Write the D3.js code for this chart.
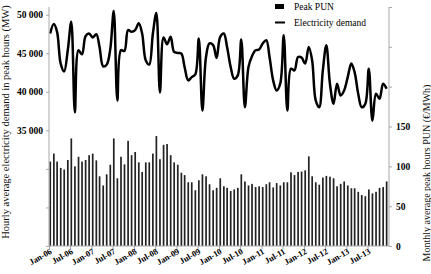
<!DOCTYPE html>
<html>
<head>
<meta charset="utf-8">
<script src="https://cdn.jsdelivr.net/npm/d3@7"></script>
<style>
  body { margin: 0; background: #fff; }
  svg text { font-family: "Liberation Serif", "Times New Roman", serif; }
</style>
</head>
<body>
<svg id="chart" width="431" height="274"></svg>
<script>
// monthly data, Jan-06 .. Dec-13
const startMonth = "2006-01";
const punValues = [
  106, 116, 106, 98, 96, 108, 135, 100, 112, 106, 108, 114,
  116, 107.5, 87.5, 76, 90, 102, 135, 85, 112, 102.5, 132, 114,
  118, 105, 93, 105, 105, 116, 138, 109, 127, 128, 114, 105,
  102, 92, 89, 80, 80, 70, 82.5, 90, 87.5, 77.5, 70, 73,
  85, 75, 73, 69, 71, 73, 90, 81, 76, 78, 74, 75,
  74, 77.5, 80, 73.5, 79, 76, 80, 80, 92.5, 89, 93, 93.5,
  95, 112.5, 87.5, 80, 77, 86, 88, 87, 85, 75, 78, 81,
  76, 72.5, 72.5, 68, 64, 62.5, 71, 66, 68, 73, 74, 81
];
const demandValues = [
  47570, 48790, 47780, 43660, 42650, 45390, 49090, 37340, 45390, 44870, 47220, 47570,
  47050, 47480, 45820, 43300, 43500, 45500, 50480, 38870, 45390, 45300, 48000, 47780,
  48000, 48880, 47570, 44090, 43530, 47500, 50220, 39910, 47050, 46170, 47130, 45170,
  45040, 44960, 43210, 41480, 41910, 42260, 46920, 37560, 44520, 46270, 46050, 44400,
  47130, 47570, 45820, 43210, 41700, 42130, 46790, 37990, 43210, 44610, 45390, 45480,
  46270, 46700, 44520, 41480, 40170, 41050, 47350, 37560, 43000, 42780, 44520, 44440,
  43660, 45820, 44090, 38870, 37990, 42780, 46050, 41050, 38440, 41050, 39520, 40170,
  41910, 43660, 42560, 39740, 37990, 38440, 43000, 36260, 39740, 39090, 41050, 40390
];
const demandTicks = [20000, 25000, 30000, 35000, 40000, 45000, 50000];
const demandLabelled = [35000, 40000, 45000, 50000];
const punTicks = [0, 50, 100, 150, 200, 250, 300];
const punLabelled = [0, 50, 100, 150];
const seriesNames = ["Peak PUN", "Electricity demand"];

const parseMonth = d3.timeParse("%Y-%m");
const start = parseMonth(startMonth);
const months = punValues.map((v, i) => d3.timeMonth.offset(start, i));
const xTicks = d3.timeMonth.every(6).range(start, d3.timeMonth.offset(start, 96));

const svg = d3.select("#chart");
const plotLeft = 49, plotRight = 389, plotTop = 7, plotBottom = 246;
const axisColor = "#a8a8a8";

const x = d3.scaleTime()
  .domain([start, d3.timeMonth.offset(start, 96)])
  .range([plotLeft, plotRight]);
const yDemand = d3.scaleLinear().domain([20000, 51000]).range([plotBottom, plotTop]);
const yPun = d3.scaleLinear().domain([0, 300]).range([plotBottom, plotTop]);

const fmt = d => d3.format(",")(d).replace(",", " ");

// bars
svg.append("g")
  .selectAll("rect")
  .data(punValues)
  .join("rect")
  .attr("x", (d, i) => x(months[i]) + 0.4)
  .attr("y", d => yPun(d))
  .attr("width", 1.7)
  .attr("height", d => plotBottom - yPun(d))
  .attr("fill", "#222");

// line
const line = d3.line()
  .x((d, i) => x(months[i]) + 1.2)
  .y(d => yDemand(d))
  .curve(d3.curveCatmullRom.alpha(0.5));

svg.append("path")
  .datum(demandValues)
  .attr("d", line)
  .attr("fill", "none")
  .attr("stroke", "#000")
  .attr("stroke-width", 2.5)
  .attr("stroke-linejoin", "round");

// left axis
const leftAxis = svg.append("g")
  .attr("transform", `translate(${plotLeft},0)`)
  .call(d3.axisLeft(yDemand).tickValues(demandTicks).tickSize(3)
    .tickFormat(d => demandLabelled.includes(d) ? fmt(d) : ""));
leftAxis.select(".domain").attr("stroke", axisColor).attr("d", `M0,${plotTop}V${plotBottom}`);
leftAxis.selectAll(".tick line").attr("stroke", axisColor);
leftAxis.selectAll(".tick text")
  .attr("x", -6)
  .attr("font-size", 9.5)
  .attr("font-weight", "bold")
  .attr("fill", "#000");

// right axis
const rightAxis = svg.append("g")
  .attr("transform", `translate(${plotRight},0)`)
  .call(d3.axisRight(yPun).tickValues(punTicks).tickSize(3)
    .tickFormat(d => punLabelled.includes(d) ? d : ""));
rightAxis.select(".domain").attr("stroke", axisColor).attr("d", `M0,${plotTop}V${plotBottom}`);
rightAxis.selectAll(".tick line").attr("stroke", axisColor);
rightAxis.selectAll(".tick text")
  .attr("x", 7)
  .attr("font-size", 9.5)
  .attr("font-weight", "bold")
  .attr("fill", "#000");

// bottom axis
const bottomAxis = svg.append("g")
  .attr("transform", `translate(0,${plotBottom})`)
  .call(d3.axisBottom(x).tickValues(xTicks).tickSize(3)
    .tickFormat(d3.timeFormat("%b-%y")));
bottomAxis.select(".domain").attr("stroke", axisColor).attr("d", `M${plotLeft},0H${plotRight}`);
bottomAxis.selectAll(".tick line").attr("stroke", axisColor);
bottomAxis.selectAll(".tick text")
  .attr("font-size", 8.5)
  .attr("font-weight", "bold")
  .attr("fill", "#000")
  .attr("text-anchor", "end")
  .attr("y", 0)
  .attr("dy", 0)
  .attr("transform", "translate(3,7) rotate(-30)");

// axis titles
svg.append("text")
  .attr("transform", `translate(9,122) rotate(-90)`)
  .attr("text-anchor", "middle")
  .attr("font-size", 10.5)
  .attr("fill", "#111")
  .text("Hourly average electricity demand in peak hours (MW)");

svg.append("text")
  .attr("transform", "translate(430,173) rotate(-90)")
  .attr("text-anchor", "middle")
  .attr("font-size", 10)
  .attr("fill", "#111")
  .text("Monthly average peak hours PUN (€/MWh)");

// legend
const legend = svg.append("g").attr("transform", "translate(275,0)");
legend.append("rect")
  .attr("x", 0).attr("y", 4).attr("width", 9).attr("height", 5)
  .attr("fill", "#000");
legend.append("line")
  .attr("x1", 0).attr("x2", 10).attr("y1", 22.5).attr("y2", 22.5)
  .attr("stroke", "#000").attr("stroke-width", 2);
legend.selectAll("text.lg")
  .data(seriesNames)
  .join("text")
  .attr("class", "lg")
  .attr("x", 19)
  .attr("y", (d, i) => 10 + i * 16)
  .attr("font-size", 9.5)
  .attr("fill", "#000")
  .text(d => d);
</script>
</body>
</html>
